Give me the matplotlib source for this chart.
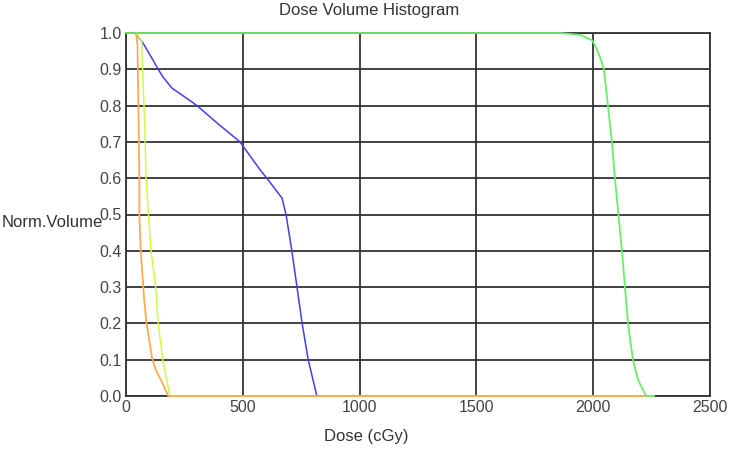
import matplotlib
matplotlib.use("Agg")
import matplotlib.pyplot as plt

# Dose (cGy) / normalized volume pairs
blue_dose = [40, 73, 116, 138, 158, 197, 240, 304, 390, 488, 574, 603, 668, 685, 710, 732, 754, 780, 817, 2260]
blue_vol = [1.0, 0.972, 0.925, 0.9, 0.879, 0.848, 0.829, 0.8, 0.752, 0.7, 0.623, 0.6, 0.545, 0.5, 0.4, 0.3, 0.2, 0.1, 0.0, 0.0]

yellow_dose = [45, 67, 71, 77, 82, 86, 96, 107, 127, 131, 138, 157, 188, 2260]
yellow_vol = [1.0, 0.977, 0.9, 0.8, 0.7, 0.6, 0.5, 0.4, 0.3, 0.264, 0.2, 0.1, 0.0, 0.0]

orange_dose = [43, 49, 53, 57, 57, 63, 74, 78, 88, 113, 131, 153, 181, 2260]
orange_vol = [1.0, 0.97, 0.8, 0.6, 0.5, 0.4, 0.3, 0.264, 0.2, 0.1, 0.067, 0.04, 0.0, 0.0]

green_dose = [0, 1858, 1944, 1995, 2007, 2029, 2046, 2063, 2080, 2093, 2108, 2123, 2136, 2149, 2170, 2192, 2226, 2260]
green_vol = [1.0, 1.0, 0.995, 0.98, 0.967, 0.934, 0.9, 0.8, 0.7, 0.6, 0.5, 0.4, 0.3, 0.2, 0.1, 0.044, 0.0, 0.0]

x_ticks = [0, 500, 1000, 1500, 2000, 2500]
y_ticks = [0.0, 0.1, 0.2, 0.3, 0.4, 0.5, 0.6, 0.7, 0.8, 0.9, 1.0]

plt.rcParams['font.family'] = ['Liberation Sans', 'DejaVu Sans']

fig = plt.figure(figsize=(7.31, 4.5), dpi=100)
ax = fig.add_axes([126 / 731, 1 - 396 / 450, (710 - 126) / 731, (396 - 33) / 450])

ax.plot(blue_dose, blue_vol, color='#4040e8', lw=1.1, zorder=3, clip_on=False)
ax.plot(yellow_dose, yellow_vol, color='#ccff44', lw=1.1, zorder=3, clip_on=False)
ax.plot(orange_dose, orange_vol, color='#ffaa50', lw=1.3, zorder=4, clip_on=False)
ax.plot(green_dose, green_vol, color='#66f066', lw=1.3, zorder=5, clip_on=False)

ax.set_xlim(0, 2500)
ax.set_ylim(0, 1.0)
ax.set_xticks(x_ticks)
ax.set_yticks(y_ticks)
ax.set_xticklabels([str(t) for t in x_ticks])
ax.set_yticklabels([f"{t:.1f}" for t in y_ticks])
ax.tick_params(length=0, labelsize=11.5, labelcolor='#444444', pad=3)
ax.grid(True, color='#333333', lw=1.3, zorder=1)
ax.set_axisbelow(True)
for s in ax.spines.values():
    s.set_color('#333333')
    s.set_linewidth(1.3)
    s.set_zorder(2)

fig.text(369 / 731, 1 - 10 / 450, 'Dose Volume Histogram', ha='center', va='center', fontsize=12, color='#333333')
fig.text(366 / 731, 1 - 436 / 450, 'Dose (cGy)', ha='center', va='center', fontsize=12, color='#333333')
fig.text(2 / 731, 1 - 222 / 450, 'Norm.Volume', ha='left', va='center', fontsize=12, color='#333333')

fig.savefig('out.png', dpi=100, facecolor='white')
